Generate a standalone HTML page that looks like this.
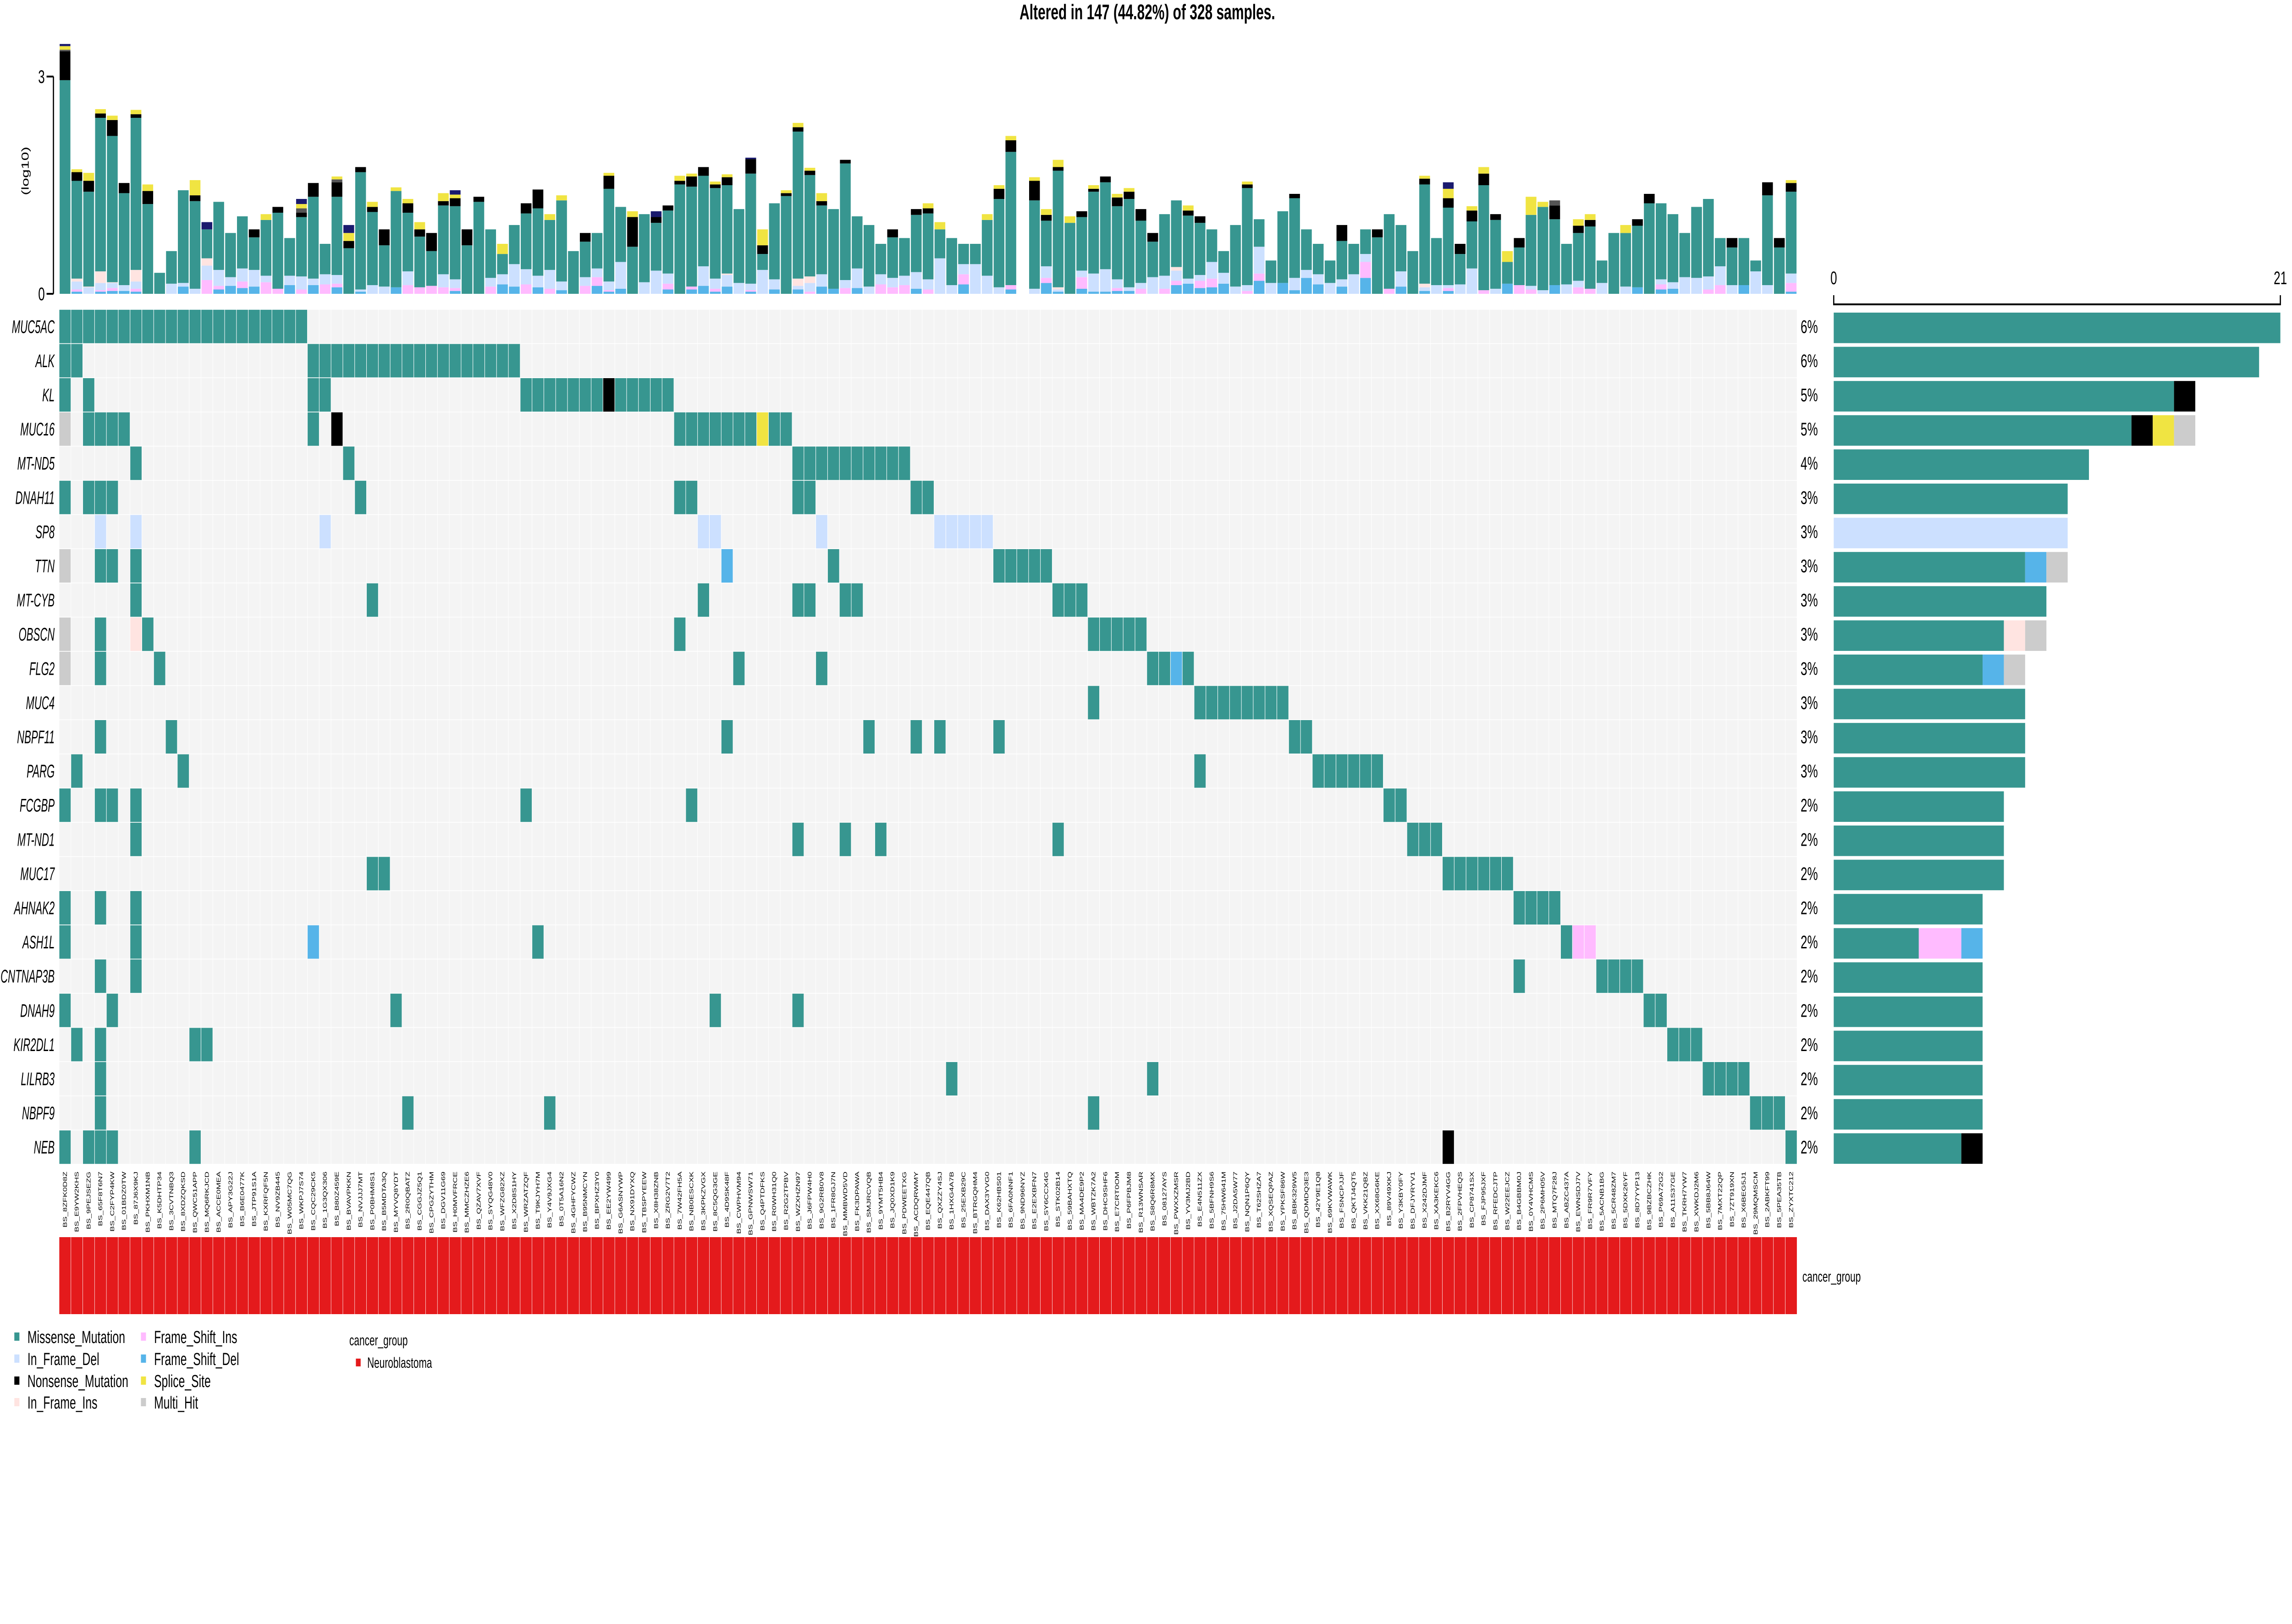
<!DOCTYPE html>
<html><head><meta charset="utf-8">
<style>
html,body{margin:0;padding:0;background:#fff;overflow:hidden;width:100%;height:100%;}
svg{display:block;font-family:"Liberation Sans",Arial,sans-serif;width:100vw;height:100vh;}
</style></head>
<body>
<svg id="chart" xmlns="http://www.w3.org/2000/svg" viewBox="0 0 7677 3543" preserveAspectRatio="none">
<text x="3843" y="42" font-size="46" font-weight="bold" text-anchor="middle">Altered in 147 (44.82%) of 328 samples.</text>
<g id="top"></g>
<g id="matrix"></g>
<g id="right"></g>
<g id="labels"></g>
<g id="anno"></g>
<g id="legend"></g>
</svg>
<script>
const genes = ["MUC5AC","ALK","KL","MUC16","MT-ND5","DNAH11","SP8","TTN","MT-CYB","OBSCN","FLG2","MUC4","NBPF11","PARG","FCGBP","MT-ND1","MUC17","AHNAK2","ASH1L","CNTNAP3B","DNAH9","KIR2DL1","LILRB3","NBPF9","NEB"];
const geneMuts = ["0-20","0 1 21-38","0 2 21 22 39-45 46N 47-51","0H 2-5 21 23N 52-58 59S 60 61","6 24 62-71","0 2-4 25 52 53 62 63 72 73","3D 6D 22D 54D 55D 64D 74-78D","0H 3 4 6 56X 65 79-83","6 26 54 62 63 66 67 84-86","0H 3 6I 7 52 87-91","0H 3 8 57 64 92 93 94X 95","87 96-103","3 9 56 68 72 74 79 104 105","1 10 96 106-111","0 3 4 6 39 53 112 113","6 62 66 69 84 114-116","26 27 117-122","0 3 6 123-126","0 6 21X 40 127 128F 129F","3 6 123 130-133","0 4 28 55 62 134 135","1 3 11 12 136-138","3 75 92 139-142","3 29 41 87 143-145","0 2-4 11 117N 146"];
const totalSamples = 328;
const samples = ["BS_8ZFK0D8Z","BS_E9YW2KHS","BS_9PEJSEZG","BS_65F8T6N7","BS_C2FYP4KW","BS_01BDZ0TW","BS_87J6X9KJ","BS_PKHXM1NB","BS_K5DHTP34","BS_3CVTNBQ3","BS_8XDZQKSD","BS_QWC51APP","BS_MQ6RKJCD","BS_ACCE0MEA","BS_APY3G22J","BS_B6E0477K","BS_JTP91S1A","BS_KXRFQF5N","BS_NV9ZB445","BS_W05MC7QG","BS_WKPJ7S74","BS_CQC29CK5","BS_1G3QX306","BS_B80Z459E","BS_BVAVPKKN","BS_NVJJJ7MT","BS_P0BHM8S1","BS_B5MDTA3Q","BS_MYVQ8YDT","BS_2R0QBATZ","BS_CGGJZ5Q1","BS_CPGZYTHM","BS_DGV11G69","BS_H0MVFRCE","BS_MMCZHZE6","BS_QZAV7XVF","BS_SYQG48V0","BS_WFZG82XZ","BS_X2D8S1HY","BS_WRZATZQF","BS_T9KJYH7M","BS_Y4V9JXG4","BS_0T5A16N2","BS_4GHFYCWZ","BS_B95NMCYN","BS_BPXHZ3Y0","BS_EE2YW499","BS_G6ASNYWP","BS_NX91DYXQ","BS_TBSPYEEW","BS_X8H38ZNB","BS_ZRG2V7T2","BS_7W42FH5A","BS_NB0ESCXK","BS_3KPKZVGX","BS_8C5QG3GE","BS_4D9SK48F","BS_CWPHVM94","BS_GPNWSW71","BS_Q4PTDFKS","BS_R0WH31Q0","BS_R2G2TPBV","BS_WZXHZN97","BS_J6FPW4H0","BS_9G2RB0V8","BS_1FR8GJ7N","BS_MMBWD5VD","BS_FK3DPAWA","BS_SMJRCVQB","BS_9YMT5HB4","BS_JQ0XD1K9","BS_PDWEETXG","BS_ACDQRWMY","BS_EQE447QB","BS_QXZZY4SJ","BS_1HXG4A7B","BS_25EXB29C","BS_BTRGQHM4","BS_DAX3YVG0","BS_K62HBS01","BS_6FA0NNF1","BS_9ND96NYZ","BS_E2EXBFN7","BS_SY6CCX4G","BS_STK02B14","BS_59BAHXTQ","BS_MA4DE9P2","BS_WBTZK7A2","BS_DHC9SHF6","BS_E7CRT0OM","BS_P6FPBJM8","BS_R13WNSAR","BS_S8Q6R8MX","BS_08127AYS","BS_PWXXZMSR","BS_YV3MJ2BD","BS_E4N511ZX","BS_5BFNH9S6","BS_75HW641M","BS_J2DA5W77","BS_NQN1P6QY","BS_T62SHZA7","BS_XQSEQPAZ","BS_YPKSF86W","BS_BBK329W5","BS_QDMDQ3E3","BS_42Y9E1Q8","BS_69KVWAWK","BS_FSNCPJJF","BS_QKTJ4QT5","BS_VKK21QBZ","BS_XX68G6KE","BS_89V49XKJ","BS_Y3KBY0FY","BS_DFJYRYV1","BS_X242DJMF","BS_XA3KEKC6","BS_B2RYV4GG","BS_2FPVHEQS","BS_CP8741SX","BS_FJP95JXF","BS_RFEDCJTP","BS_W22EEJCZ","BS_B4GBBM0J","BS_0Y4VHCMS","BS_2P6MH05V","BS_MTQ7F28J","BS_ABZC437A","BS_EWNSDJ7V","BS_FR9R7VFY","BS_5ACNB1BG","BS_5CR48ZM7","BS_5DXK26YF","BS_8D7YYP13","BS_9BZBCZHK","BS_P69A72G2","BS_A11S37GE","BS_TKRH7YW7","BS_XWKDJ2M6","BS_5BB8J64W","BS_7MXT22QP","BS_7ZT919XN","BS_X6BEG5J1","BS_29MQMSCM","BS_2ABKFT99","BS_5PEA35TB","BS_ZYXTC212"];
const fsdVals = [0,.03,0,.03,.04,.04,.03,0,0,0, .10,0,0,.06,.11,.08,.10,0,0,.12, 0,.12,0,.09,0,.03,0,0,.09,0, 0,0,0,.04,0,0,0,.13,.10,0, .09,0,.05,0,0,.11,.03,.07,0,0, 0,.06,0,.06,.11,.03,.10,0,.03,0, .06,0,.06,0,.10,.07,0,.08,0,0, 0,0,.07,0,0,0,.13,0,0,0, .06,0,0,.15,.03,0,.07,.03,.03,.04, .04,0,0,0,.12,.14,.08,.09,.14,0, 0,.18,0,.15,.05,.22,.13,0,.10,0, .22,0,0,.10,0,.04,0,.04,0,0, 0,0,.14,0,0,0,.12,0,0,0, 0,0,0,.09,0,.06,.07,0,0,0, 0,0,.12,0,0,0,.03];
const fsiVals = [0,.03,0,.02,.04,0,.04,0,0,0, 0,0,.19,.05,0,.09,0,.16,.07,0, .06,0,.13,.05,0,0,0,0,0,.12, .09,.11,.09,.04,0,0,.10,0,0,.13, 0,.07,0,0,.11,.12,.02,0,0,0, 0,.08,0,.04,0,.04,0,0,.02,0, 0,0,0,.03,0,0,.08,0,0,.13, .09,.12,0,.06,0,0,.14,0,0,0, .06,0,0,.07,0,0,.16,0,0,.04, 0,.07,0,.07,.06,0,.10,.12,0,0, .04,.10,0,0,0,0,0,0,0,0, .22,0,.07,0,0,0,0,.04,0,0, .05,0,0,.12,.06,0,0,0,.09,.07, 0,0,0,0,0,.07,0,0,0,.06, .12,0,0,0,0,0,.12];
const ifdVals = [0,.11,.09,.10,.07,.08,.10,0,0,.14, .05,.07,.20,.22,.12,.18,.23,.09,0,.13, .18,.09,.14,.12,0,.03,.12,.10,0,.19, 0,0,.18,.12,0,0,.12,.14,.31,.21, .16,.26,.12,0,.12,.12,.12,.37,0,.16, .32,.14,0,0,.27,.14,.16,.15,.09,.33, .14,0,.05,.12,.17,0,.11,.27,.10,.14, .13,.13,.23,.14,.49,.12,.14,.41,.25,.09, 0,0,.07,.16,.03,0,.09,.25,.31,.12, .05,.08,.23,.18,.14,.07,.08,.23,.15,.10, .08,.37,.15,0,.17,.11,.14,.15,.10,.27, .11,0,0,.21,0,.05,.12,.04,.13,.35, 0,.07,0,0,.05,.05,0,.13,.09,0, .15,0,.10,0,0,.07,.09,.23,.22,.18, .26,.12,0,.31,.12,0,.13];
const ifiVals = [0,.04,.01,.16,.01,0,.16,0,0,0, 0,0,.10,0,0,0,0,0,0,0, 0,0,0,0,0,0,0,0,0,0, 0,0,0,0,0,0,0,0,0,0, 0,0,0,0,0,0,0,0,0,0, 0,0,0,0,0,0,.02,0,0,0, 0,0,.10,.09,0,0,0,0,0,0, 0,0,0,0,0,0,0,0,0,0, 0,0,0,0,.03,0,0,0,0,0, 0,0,0,0,.05,0,0,0,0,0, 0,0,0,0,0,0,0,0,0,0, 0,0,0,0,0,.05,0,0,0,0, 0,0,0,0,0,0,0,0,0,0, 0,0,0,0,0,0,0,0,0,0, 0,0,0,0,0,0,0];
const misVals = [2.95,1.35,1.31,2.12,2.02,1.27,2.10,1.24,.29,.45, 1.28,1.21,.40,.94,.61,.72,.45,.77,1.05,.52, .82,1.13,.42,1.08,.63,1.62,1.01,.57,1.33,.81, .70,.48,.95,1.01,.67,1.27,.67,.28,.54,.77, .93,.69,1.12,.59,.49,.49,1.28,.76,.65,.94, .66,.87,1.51,1.38,1.25,1.25,1.22,1.02,1.52,.22, 1.05,1.35,2.03,1.40,.95,1.10,1.61,.72,.85,.42, .56,.52,.79,.91,.40,.65,.28,.28,.77,1.22, 1.84,0,1.22,.63,1.61,.98,.74,1.13,1.20,1.01, 1.22,.86,.49,.85,.92,.87,.72,.45,.30,.85, 1.34,.38,.31,.99,1.10,.56,.42,.31,.53,.42, .34,.78,1.03,.64,.59,1.37,.65,1.07,.42,.65, 1.45,.95,.30,.52,.98,1.15,.91,.56,.66,.86, .31,.84,.74,.85,1.25,1.05,.94,.61,.98,1.07, .39,.52,.65,.15,1.24,.64,1.13];
const nonVals = [.40,.12,.15,.06,.22,.14,.05,.18,0,0, 0,.08,0,0,0,0,.11,0,.08,0, .06,.19,0,.20,.10,.07,.07,.22,0,.13, .10,.25,.06,.11,.22,.07,0,0,0,.14, .26,0,0,0,.12,0,.18,0,.41,0, .08,.07,.05,.14,.12,.05,.11,0,.20,.12, 0,.04,.06,.06,.06,0,.05,0,0,0, .11,0,.08,.07,0,0,0,0,0,.14, .16,0,.27,.08,.05,0,.08,.04,.08,.12, .10,.16,.12,0,0,.07,.09,0,0,0, .05,0,0,0,.06,0,0,0,.22,0, 0,.11,0,0,0,.08,0,.13,.14,.15, .16,.08,0,.13,0,0,.19,0,.10,.09, 0,0,0,.09,.13,0,0,0,0,0, 0,.13,0,0,.18,.13,.12];
const dgVals = [.02,0,0,0,0,0,0,0,0,0, 0,0,0,0,0,0,0,0,0,0, .06,0,0,.04,0,0,0,0,0,0, 0,0,0,0,0,0,0,0,0,0, 0,0,0,0,0,0,0,0,0,0, 0,0,0,0,0,0,0,0,0,0, 0,0,0,0,0,0,0,0,0,0, 0,0,0,0,0,0,0,0,0,0, 0,0,0,0,0,0,0,0,0,0, 0,0,0,0,0,0,0,0,0,0, 0,0,0,0,0,0,0,0,0,0, 0,0,0,0,0,0,0,0,0,0, 0,0,0,0,0,0,.07,0,0,0, 0,0,0,0,0,0,0,0,0,0, 0,0,0,0,0,0,0];
const splVals = [.05,.04,.11,.06,.06,0,.06,.09,0,0, 0,.21,0,0,0,0,0,.08,0,0, .06,0,0,.04,.11,0,.07,0,.05,.06, .10,0,.11,.05,0,0,0,.14,0,0, 0,.08,.07,0,0,0,.04,0,.08,0, 0,0,.07,.04,0,.04,.04,0,0,.22, 0,.04,.06,.04,.11,0,0,0,0,0, 0,0,0,.07,.10,0,0,0,.08,.05, .06,0,.05,.08,.10,.09,0,.05,0,.05, .05,0,0,0,0,.07,0,0,0,0, .04,0,0,0,0,0,0,0,0,0, 0,0,0,0,0,.04,0,.13,0,.06, .09,0,.15,0,.25,.07,0,0,.09,.08, 0,0,.11,0,0,0,0,0,0,0, 0,0,0,0,0,0,.04];
const tssVals = [.03,0,0,0,0,0,0,0,0,0, 0,0,.10,0,0,0,0,0,0,0, .07,0,0,0,.11,0,0,0,0,0, 0,0,0,.06,0,0,0,0,0,0, 0,0,0,0,0,0,0,0,0,0, .08,0,0,0,0,0,0,0,.02,0, 0,0,0,0,0,0,0,0,0,0, 0,0,0,0,0,0,0,0,0,0, 0,0,0,0,0,0,0,0,0,0, 0,0,0,0,0,0,0,0,0,0, 0,0,0,0,0,0,0,0,0,0, 0,0,0,0,0,0,0,.09,0,0, 0,0,0,0,0,0,0,0,0,0, 0,0,0,0,0,0,0,0,0,0, 0,0,0,0,0,0,0];
const topTicks = [0, 3];

const NS = "http://www.w3.org/2000/svg";
const C = {M:"#379690",N:"#000000",S:"#F0E442",H:"#CCCCCC",D:"#CCE0FF",I:"#FFE4E1",F:"#FFBBFF",X:"#56B4E9",dg:"#555555",tss:"#1A1A6E"};
const X0 = 198, CW = 39.6, Y0 = 675, RH = 74.6;
function colX(i){return X0 + i*CW;}
function rowY(j){return Y0 + j*RH;}
const BASE = 641, UNIT = 158;
function topY(v){return BASE - v*UNIT;}
const RX0 = 6142, RXMAX = 7638;
function el(tag, attrs, parent){const e=document.createElementNS(NS,tag);for(const k in attrs)e.setAttribute(k,attrs[k]);parent.appendChild(e);return e;}

const cells = genes.map(()=>({}));
geneMuts.forEach((s,j)=>{
  s.split(" ").forEach(tok=>{
    const m = tok.match(/^(\d+)(?:-(\d+))?([A-Z]?)$/);
    if(!m) return;
    const a=+m[1], b=m[2]?+m[2]:a, code=m[3]||"M";
    for(let i=a;i<=b;i++) cells[j][i]=code;
  });
});

// top barplot
const topG = document.getElementById("top");
const ax = el("line",{x1:179,x2:179,y1:topY(3),y2:topY(0),stroke:"#000","stroke-width":4},topG);


topTicks.forEach(t=>{
  const tl = el("line",{x1:156,x2:179,y1:topY(t),y2:topY(t),stroke:"#000","stroke-width":4},topG);
  
  
  const tx = el("text",{x:150,y:topY(t)+14,"font-size":40,"text-anchor":"end"},topG);
  tx.textContent = t;
  
  
});
const yl = el("text",{x:0,y:0,"font-size":34,"text-anchor":"middle",transform:"translate(96,373) rotate(-90)"},topG);
yl.textContent="(log10)";


const stack = [[fsdVals,C.X],[fsiVals,C.F],[ifdVals,C.D],[ifiVals,C.I],[misVals,C.M],[nonVals,C.N],[dgVals,C.dg],[splVals,C.S],[tssVals,C.tss]];
samples.forEach((s,i)=>{
  let acc=0;
  stack.forEach(([arr,col])=>{
    const v=arr[i]||0; if(v<=0) return;
    const r = el("rect",{x:colX(i)+1.8,y:topY(acc+v),width:CW-3.6,height:v*UNIT,fill:col},topG);
    
    
    acc+=v;
  });
});

// matrix
const mat = document.getElementById("matrix");
genes.forEach((g,j)=>{
  const gy = rowY(j)+RH/2+14;
  const gl = el("text",{x:0,y:0,"font-size":40,"font-style":"italic","text-anchor":"end",transform:`translate(183,${gy}) scale(0.85,1)`},mat);
  gl.textContent=g;
  
  
  for(let i=0;i<samples.length;i++){
    const code = cells[j][i];
    const r = el("rect",{x:colX(i)+0.8,y:rowY(j)+0.8,width:CW-1.6,height:RH-1.6,fill:code?C[code]:"#F4F4F4"},mat);
    
    
  }
  const n = Object.keys(cells[j]).length;
  const pl = el("text",{x:6031,y:rowY(j)+RH/2+14,"font-size":40},mat);
  pl.textContent = Math.round(100*n/totalSamples)+"%";
  
  
});

// right barplot
const rightG = document.getElementById("right");
const counts = genes.map((g,j)=>Object.keys(cells[j]).length);
const rmax = Math.max(...counts);
function rX(v){return RX0 + v*(RXMAX-RX0)/rmax;}
const rax = el("path",{d:`M${rX(0)} 644 V664 H${rX(rmax)} V644`,fill:"none",stroke:"#000","stroke-width":4},rightG);


[0,rmax].forEach(t=>{
  const tx = el("text",{x:rX(t),y:620,"font-size":40,"text-anchor":"middle"},rightG);
  tx.textContent=t;
  
  
});
const order = ["M","I","F","X","D","N","S","H"];
genes.forEach((g,j)=>{
  const cnt={}; Object.values(cells[j]).forEach(c=>cnt[c]=(cnt[c]||0)+1);
  let acc=0;
  order.forEach(c=>{
    if(!cnt[c]) return;
    const r = el("rect",{x:rX(acc),y:rowY(j)+7,width:rX(acc+cnt[c])-rX(acc),height:RH-8,fill:C[c]},rightG);
    
    
    acc+=cnt[c];
  });
});

// sample labels
const labG = document.getElementById("labels");
samples.forEach((s,i)=>{
  const cx = colX(i)+CW/2+6;
  const t = el("text",{x:0,y:0,"font-size":18,"text-anchor":"end",transform:`translate(${cx},2556) rotate(-90)`},labG);
  t.textContent=s;
  
  
});

// annotation
const annoG = document.getElementById("anno");
samples.forEach((s,i)=>{
  const r = el("rect",{x:colX(i)+0.6,y:2699,width:CW-1.2,height:168,fill:"#E41A1C"},annoG);
  
  
});
const al = el("text",{x:6037,y:2796,"font-size":32},annoG);
al.textContent="cancer_group";



// legend
const legG = document.getElementById("legend");
const legItems = [["Missense_Mutation","M",48,2916],["In_Frame_Del","D",48,2964],["Nonsense_Mutation","N",48,3012],["In_Frame_Ins","I",48,3059],["Frame_Shift_Ins","F",472,2916],["Frame_Shift_Del","X",472,2964],["Splice_Site","S",472,3012],["Multi_Hit","H",472,3059]];
legItems.forEach(([name,c,x,y])=>{
  const r = el("rect",{x:x,y:y-9,width:17,height:18,fill:C[c]},legG);
  
  
  const t = el("text",{x:x+44,y:y+14,"font-size":38},legG);
  t.textContent=name;
  
  
});
const lt = el("text",{x:1170,y:2935,"font-size":32},legG);
lt.textContent="cancer_group";


const ls = el("rect",{x:1192,y:2964,width:16,height:17,fill:"#E41A1C"},legG);


const lx = el("text",{x:1230,y:2984,"font-size":32},legG);
lx.textContent="Neuroblastoma";


</script>
</body></html>
